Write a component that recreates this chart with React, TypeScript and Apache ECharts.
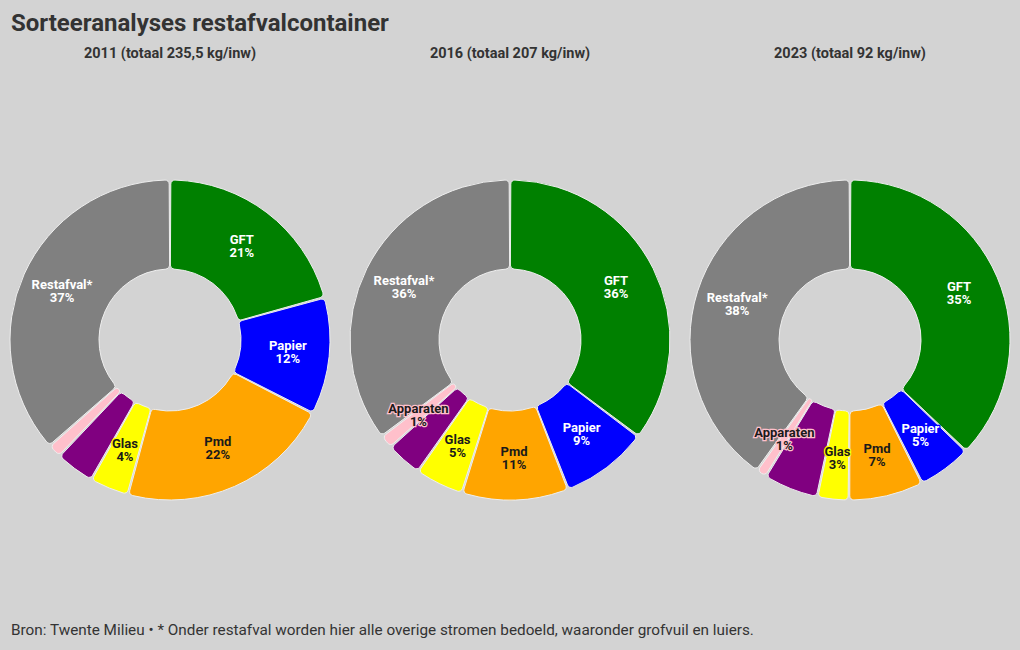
import React, { useEffect, useRef } from "react";
import * as echarts from "echarts";

const categories = ["GFT", "Papier", "Pmd", "Glas", "Textiel", "Apparaten", "Restafval*"];
const colors = ["#008000", "#0000ff", "#ffa500", "#ffff00", "#800080", "#ffc0cb", "#808080"];
const labelColors = ["#ffffff", "#ffffff", "#1a1a1a", "#1a1a1a", "#ffffff", "#1a1a1a", "#ffffff"];

const years = ["2011", "2016", "2023"];
const subtitles = ["2011 (totaal 235,5 kg/inw)", "2016 (totaal 207 kg/inw)", "2023 (totaal 92 kg/inw)"];
const values2011 = [21, 12, 22, 4, 4, 1.4, 37];
const values2016 = [36, 9, 11, 5, 3.7, 1.4, 36];
const values2023 = [35, 5.1, 7.1, 3, 5.2, 1, 37.8];
const shownLabels2011 = [true, true, true, true, false, false, true];
const shownLabels2016 = [true, true, true, true, false, true, true];
const shownLabels2023 = [true, true, true, true, false, true, true];

const title = "Sorteeranalyses restafvalcontainer";
const footer = "Bron: Twente Milieu • * Onder restafval worden hier alle overige stromen bedoeld, waaronder grofvuil en luiers.";

const FONT = "Roboto, 'Noto Sans', sans-serif";

export default function App() {
  const ref = useRef<HTMLDivElement>(null);
  useEffect(() => {
    document.body.style.margin = "0";
    const chart = echarts.init(ref.current!, undefined, { renderer: "svg" });
    const allValues = [values2011, values2016, values2023];
    const allShown = [shownLabels2011, shownLabels2016, shownLabels2023];
    const centersX = [170, 510, 850];
    const series = years.map((y, i) => ({
      type: "pie",
      name: y,
      center: [centersX[i], 340],
      radius: [71, 160],
      startAngle: 90,
      clockwise: true,
      padAngle: 0.6,
      avoidLabelOverlap: false,
      itemStyle: { borderColor: "#eeeeee", borderWidth: 1, borderRadius: 4 },
      label: {
        show: true,
        position: "inside",
        fontFamily: FONT,
        fontSize: 13,
        fontWeight: "bold",
        lineHeight: 13,
        textBorderWidth: 2.5,
        formatter: (p: any) => `${p.name}\n${Math.round(p.value)}%`,
      },
      labelLine: { show: false },
      emphasis: { disabled: true },
      data: categories.map((c, k) => ({
        name: c,
        value: allValues[i][k],
        itemStyle: { color: colors[k] },
        label: {
          show: allShown[i][k],
          color: labelColors[k],
          textBorderColor: colors[k],
        },
      })),
    }));
    chart.setOption({
      animation: false,
      backgroundColor: "#d3d3d3",
      title: [
        {
          text: title,
          left: 11,
          top: 11,
          padding: 0,
          textStyle: { fontFamily: FONT, fontSize: 24, fontWeight: "bold", color: "#333333" },
        },
        ...subtitles.map((s, i) => ({
          text: s,
          left: centersX[i],
          top: 46,
          padding: 0,
          textAlign: "center",
          textStyle: { fontFamily: FONT, fontSize: 14.5, fontWeight: "bold", color: "#333333" },
        })),
        {
          text: footer,
          left: 11,
          top: 622,
          padding: 0,
          textStyle: { fontFamily: FONT, fontSize: 15.3, fontWeight: "normal", color: "#333333" },
        },
      ],
      series,
    });
    return () => chart.dispose();
  }, []);
  return <div ref={ref} style={{ position: "fixed", left: 0, top: 0, width: 1020, height: 650 }} />;
}
